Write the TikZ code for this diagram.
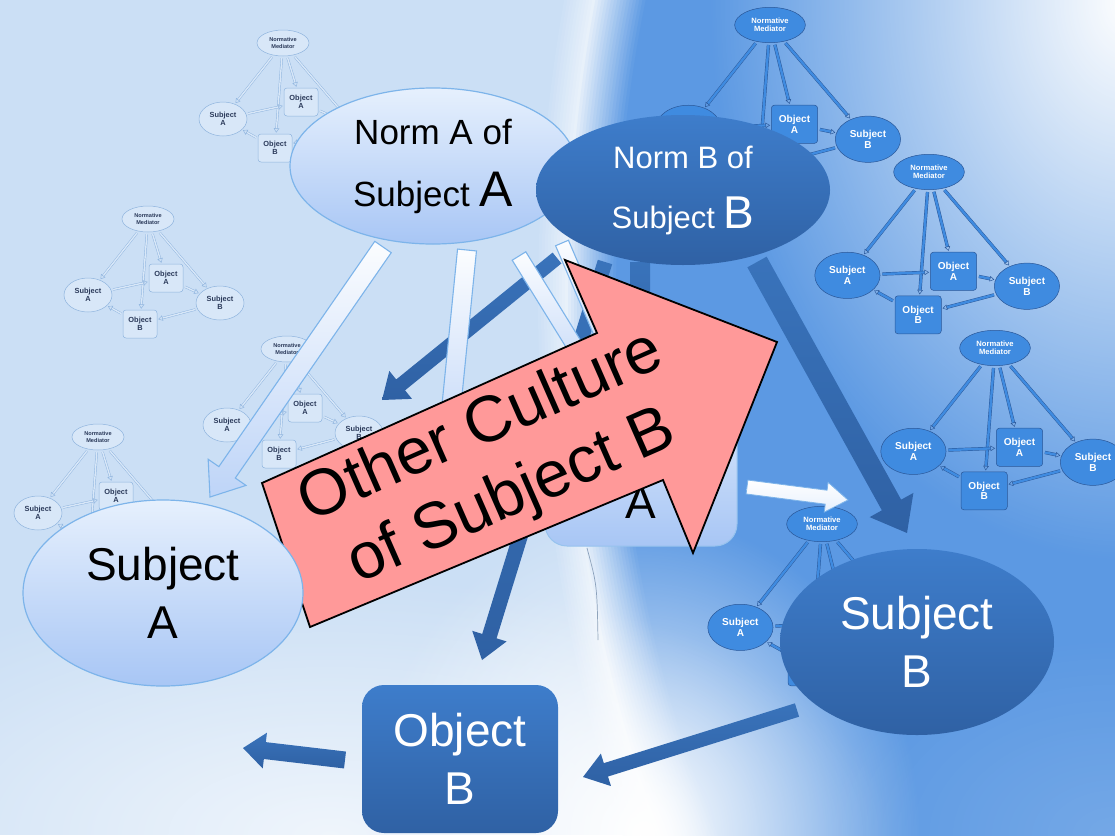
\documentclass[tikz,border=0pt]{standalone}
\usepackage{fontspec}
\setmainfont{Liberation Sans}
\usetikzlibrary{shapes.geometric,calc,arrows.meta,fadings}

\definecolor{bglight}{HTML}{CBDFF5}
\definecolor{bgblue}{HTML}{5C99E3}
\colorlet{bgpale}{white!55!bglight}
\definecolor{darktop}{HTML}{3E7DCB}
\definecolor{darkbot}{HTML}{2F61A4}
\definecolor{litetop}{HTML}{E6F0FD}
\definecolor{litebot}{HTML}{A8C6F5}
\definecolor{liteline}{HTML}{7DB4EA}
\definecolor{redfill}{HTML}{FF9999}
\definecolor{miniline}{HTML}{8FB4DE}
\definecolor{minifill}{HTML}{D8E7F8}
\definecolor{minitext}{HTML}{2B3A5A}
\definecolor{dminiline}{HTML}{2A5798}
\definecolor{dminifill}{HTML}{3F8BE0}

\tikzfading[name=glow, inner color=transparent!0, outer color=transparent!100]

% block arrow from #2 to #3: half shaft #4, half head #5, head length #6
\newcommand{\blockarrow}[6][]{%
  \coordinate (ba-h) at ($(#3)!#6!(#2)$);
  \path[#1] ($(#2)!#4!90:(#3)$) -- ($(ba-h)!#4!-90:(#2)$) -- ($(ba-h)!#5!-90:(#2)$) -- (#3)
    -- ($(ba-h)!#5!90:(#2)$) -- ($(ba-h)!#4!90:(#2)$) -- ($(#2)!#4!-90:(#3)$) -- cycle;
}

\begin{document}
\begin{tikzpicture}[x=1pt,y=-1pt]
    \tikzstyle{lite}=[ellipse, draw=liteline, line width=1.2pt, top color=litetop, bottom color=litebot, inner sep=0pt, align=center]
    \tikzstyle{dark}=[ellipse, top color=darktop, bottom color=darkbot, text=white, inner sep=0pt, align=center]
    \tikzstyle{box}=[rectangle, rounded corners=22pt]
    \tikzstyle{mini}=[line width=0.5pt, inner sep=0pt, align=center, font=\bfseries\fontsize{7.4}{8}\selectfont]
    \tikzstyle{miniarrow}=[line width=0.45pt, shorten <=2pt, shorten >=1pt, -{Triangle[open,length=4.5pt,width=5.5pt]}]
    \tikzstyle{darkarrow}=[top color=darktop!92!black, bottom color=darkbot]
    \tikzstyle{litearrow}=[draw=liteline, line width=1.1pt, top color=white!85!litetop, bottom color=litebot!75!white]

    \useasboundingbox (0,0) rectangle (1115,835);

    % background
    \fill[bglight] (0,0) rectangle (1115,835);
    \begin{scope}
      \clip (0,0) rectangle (1115,835);
      \foreach \d in {30,27,...,-51} {
        \pgfmathsetmacro\q{min(100,max(0,-2*\d))}
        \pgfmathsetmacro\p{min(100,max(0,(30-\d)*10/3))}
        \fill[bgblue!\q!bgpale!\p!bglight] (1160,300) ellipse [x radius={595+\d}, y radius={1000+1.6*\d}];
      }
      \fill[white, path fading=glow, opacity=.7] (330,835) ellipse [x radius=560, y radius=260];
      \fill[white, path fading=glow] (640,835) ellipse [x radius=280, y radius=320];
      \fill[white, path fading=glow] (1130,0) ellipse [x radius=420, y radius=560];
      \fill[white, path fading=glow, opacity=.15] (1115,835) ellipse [x radius=300, y radius=200];
    \end{scope}

    % small mediator diagrams
    \foreach \mx/\my/\sc/\oy/\dd/\lc/\fc/\tc [count=\i] in {
        283/43/1/59/1.4/miniline/minifill/minitext,
        148/219/1/59/1.4/miniline/minifill/minitext,
        287/349/1/59/1.4/miniline/minifill/minitext,
        98/437/1/59/1.4/miniline/minifill/minitext,
        770/25/1.36/73/2.4/dminiline/dminifill/white,
        929/172/1.36/73/2.4/dminiline/dminifill/white,
        995/348/1.36/73/2.4/dminiline/dminifill/white,
        822/524/1.36/73/2.4/dminiline/dminifill/white} {
      \begin{scope}[shift={(\mx,\my)}, scale=\sc, transform shape]
        \node[mini, ellipse, draw=\lc, fill=\fc, text=\tc, minimum width=52pt, minimum height=26pt, font=\bfseries\fontsize{5.6}{6.2}\selectfont] (m\i) at (0,0) {Normative\\Mediator};
        \node[mini, ellipse, draw=\lc, fill=\fc, text=\tc, minimum width=48pt, minimum height=34pt] (sa\i) at (-60,76) {Subject\\A};
        \node[mini, rectangle, rounded corners=3pt, draw=\lc, fill=\fc, text=\tc, minimum width=34pt, minimum height=28pt] (oa\i) at (18,\oy) {Object\\A};
        \node[mini, ellipse, draw=\lc, fill=\fc, text=\tc, minimum width=48pt, minimum height=34pt] (sb\i) at (72,84) {Subject\\B};
        \node[mini, rectangle, rounded corners=3pt, draw=\lc, fill=\fc, text=\tc, minimum width=34pt, minimum height=28pt] (ob\i) at (-8,105) {Object\\B};
        \draw[miniarrow, draw=\lc, double=\fc, double distance=\dd pt] (m\i) -- (sa\i);
        \draw[miniarrow, draw=\lc, double=\fc, double distance=\dd pt] (m\i) -- (ob\i);
        \draw[miniarrow, draw=\lc, double=\fc, double distance=\dd pt] (m\i) -- (oa\i);
        \draw[miniarrow, draw=\lc, double=\fc, double distance=\dd pt] (m\i) -- (sb\i);
        \draw[miniarrow, draw=\lc, double=\fc, double distance=\dd pt] (sa\i) -- (oa\i);
        \draw[miniarrow, draw=\lc, double=\fc, double distance=\dd pt] (oa\i) -- (sb\i);
        \draw[miniarrow, draw=\lc, double=\fc, double distance=\dd pt] (sb\i) -- (ob\i);
        \draw[miniarrow, draw=\lc, double=\fc, double distance=\dd pt] (ob\i) -- (sa\i);
      \end{scope}
    }

    % arrow ends
    \coordinate (nb-sa0) at (557,258);  \coordinate (nb-sa1) at (382,400);
    \coordinate (nb-ob0) at (605,262);  \coordinate (nb-ob1) at (482,660);
    \coordinate (nb-oa0) at (640,262);  \coordinate (nb-oa1) at (640,400);
    \coordinate (nb-sb0) at (757,262);  \coordinate (nb-sb1) at (907,533);
    \coordinate (na-sa0) at (383,247);  \coordinate (na-sa1) at (210,497);
    \coordinate (na-ob0) at (467,250);  \coordinate (na-ob1) at (445,470);
    \coordinate (na-oa0) at (519,256);  \coordinate (na-oa1) at (605,395);
    \coordinate (na-sb0) at (562,243);  \coordinate (na-sb1) at (625,390);
    \coordinate (oa-out0) at (747,487); \coordinate (oa-out1) at (848,500);
    \coordinate (sb-ob0) at (797,710);  \coordinate (sb-ob1) at (583,777);
    \coordinate (ob-out0) at (345,760); \coordinate (ob-out1) at (243,748);

    \blockarrow[darkarrow]{nb-sa0}{nb-sa1}{7pt}{18pt}{24pt}
    \blockarrow[darkarrow]{nb-ob0}{nb-ob1}{7.5pt}{18pt}{25pt}
    \blockarrow[darkarrow]{nb-oa0}{nb-oa1}{10pt}{20pt}{25pt}
    \blockarrow[darkarrow]{nb-sb0}{nb-sb1}{11pt}{25pt}{32pt}

    \blockarrow[litearrow]{na-sa0}{na-sa1}{10pt}{23pt}{30pt}
    \blockarrow[litearrow]{na-ob0}{na-ob1}{9.5pt}{22pt}{28pt}
    \blockarrow[litearrow]{na-oa0}{na-oa1}{8pt}{20pt}{25pt}
    \blockarrow[litearrow]{na-sb0}{na-sb1}{7pt}{18pt}{24pt}

    % norms
    \node[lite, minimum width=286pt, minimum height=156pt, font=\fontsize{35}{62}\selectfont] (normA) at (433,166) {Norm A of\\Subject {\fontsize{50}{50}\selectfont A}};
    \node[dark, minimum width=294pt, minimum height=150pt, font=\fontsize{31}{60}\selectfont] (normB) at (683,190) {Norm B of\\Subject {\fontsize{46}{46}\selectfont B}};

    % hidden object A
    \node[box, draw=liteline!80!white, line width=1pt, top color=litetop!80!litebot, bottom color=litebot, minimum width=192pt, minimum height=146pt, align=center, font=\fontsize{46}{58}\selectfont] (objA) at (641,473) {Object\\A};
    \blockarrow[litearrow, line width=.8pt, top color=white, bottom color=litetop]{oa-out0}{oa-out1}{7pt}{15pt}{22pt}
    \draw[bgblue!55!black, line width=.7pt, opacity=.5] (587,548) .. controls (597,585) .. (598,640);

    % other culture
    \draw[fill=redfill, draw=black, line width=1.8pt, line join=miter] (262,483) -- (597,333) -- (565,260) -- (777,342) -- (693,553) -- (663,480) -- (310,627) -- cycle;
    \node[rotate=23.7, align=center, font=\fontsize{65}{76}\selectfont] (culture) at (497,463) {Other Culture\\of Subject B};

    % subjects and object B
    \node[lite, minimum width=280pt, minimum height=186pt, font=\fontsize{46}{58}\selectfont] (subjA) at (163,593) {Subject\\A};
    \node[dark, minimum width=274pt, minimum height=186pt, font=\fontsize{46}{58}\selectfont] (subjB) at (917,642) {Subject\\B};
    \node[box, top color=darktop, bottom color=darkbot, text=white, minimum width=196pt, minimum height=148pt, align=center, font=\fontsize{46}{58}\selectfont] (objB) at (460,759) {Object\\B};

    \blockarrow[darkarrow]{sb-ob0}{sb-ob1}{7pt}{17pt}{24pt}
    \blockarrow[darkarrow]{ob-out0}{ob-out1}{8.5pt}{18pt}{22pt}
\end{tikzpicture}
\end{document}
